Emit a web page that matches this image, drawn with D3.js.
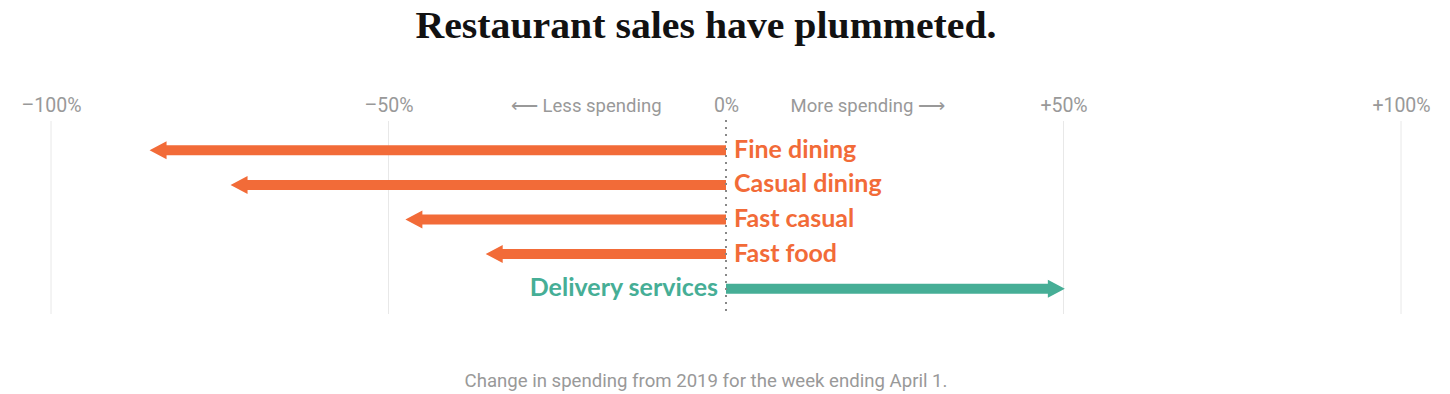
<!DOCTYPE html>
<html>
<head>
<meta charset="utf-8">
<script src="https://cdn.jsdelivr.net/npm/d3@7"></script>
<style>
body { margin: 0; background: #fff; }
</style>
</head>
<body>
<script>
// data
var categories = ["Fine dining", "Casual dining", "Fast casual", "Fast food", "Delivery services"];
var changes = [-85.4, -73.4, -47.5, -35.6, 50.2];
var tickValues = [-100, -50, 0, 50, 100];
var tickLabels = ["\u2013100%", "\u201350%", "0%", "+50%", "+100%"];

var width = 1450, height = 394;
var orange = "#f26b38", teal = "#46ae96";

var svg = d3.select("body").append("svg")
  .attr("width", width)
  .attr("height", height);

var x = d3.scaleLinear().domain([-100, 100]).range([51, 1401]);
var y = d3.scaleBand().domain(categories).range([133, 306]).padding(0);

// title
svg.append("text")
  .attr("x", 706).attr("y", 38)
  .attr("text-anchor", "middle")
  .attr("font-family", "'Liberation Serif', 'DejaVu Serif', serif")
  .attr("font-weight", "bold")
  .attr("font-size", 37)
  .attr("fill", "#121212")
  .attr("textLength", 581)
  .attr("lengthAdjust", "spacingAndGlyphs")
  .text("Restaurant sales have plummeted.");

// grid lines
svg.append("g").selectAll("line")
  .data(tickValues.filter(function(d){ return d != 0; }))
  .enter().append("line")
  .attr("x1", function(d){ return x(d); })
  .attr("x2", function(d){ return x(d); })
  .attr("y1", 121).attr("y2", 314)
  .attr("stroke", "#e8e8e8")
  .attr("stroke-width", 1);

// tick labels via axis
var axis = d3.axisTop(x)
  .tickValues(tickValues)
  .tickSize(0)
  .tickPadding(0)
  .tickFormat(function(d, i){ return tickLabels[i]; });

var ax = svg.append("g")
  .attr("transform", "translate(0,112)")
  .call(axis);
ax.select(".domain").remove();
ax.selectAll("text")
  .attr("dy", 0)
  .attr("font-family", "Roboto, sans-serif")
  .attr("font-size", 19.5)
  .attr("fill", "#999");

// direction notes
svg.append("text")
  .attr("x", x(-20.7)).attr("y", 112)
  .attr("text-anchor", "middle")
  .attr("font-family", "Roboto, sans-serif")
  .attr("font-size", 18.5)
  .attr("fill", "#999")
  .text("\u27f5 Less spending");
svg.append("text")
  .attr("x", x(21)).attr("y", 112)
  .attr("text-anchor", "middle")
  .attr("font-family", "Roboto, sans-serif")
  .attr("font-size", 18.5)
  .attr("fill", "#999")
  .text("More spending \u27f6");

// arrows
function arrowPath(v, cy) {
  var x0 = x(0), xt = x(v);
  var dir = v < 0 ? -1 : 1;
  var head = 17, hb = 5, hh = 9;
  var xb = xt - dir * head;
  return "M" + x0 + "," + (cy - hb) +
    "L" + xb + "," + (cy - hb) +
    "L" + xb + "," + (cy - hh) +
    "L" + xt + "," + cy +
    "L" + xb + "," + (cy + hh) +
    "L" + xb + "," + (cy + hb) +
    "L" + x0 + "," + (cy + hb) + "Z";
}

svg.append("g").selectAll("path")
  .data(categories)
  .enter().append("path")
  .attr("d", function(d, i){ return arrowPath(changes[i], y(d) + y.bandwidth() / 2); })
  .attr("fill", function(d, i){ return changes[i] < 0 ? orange : teal; });

// zero line
svg.append("line")
  .attr("x1", x(0)).attr("x2", x(0))
  .attr("y1", 120).attr("y2", 316)
  .attr("stroke", "#888")
  .attr("stroke-width", 2)
  .attr("stroke-dasharray", "2,5");

// category labels
svg.append("g").selectAll("text")
  .data(categories)
  .enter().append("text")
  .attr("x", function(d, i){ return changes[i] < 0 ? x(0) + 8 : x(0) - 8; })
  .attr("y", function(d){ return y(d) + y.bandwidth() / 2 + 7.5; })
  .attr("text-anchor", function(d, i){ return changes[i] < 0 ? "start" : "end"; })
  .attr("font-family", "'Lato', 'Open Sans', sans-serif")
  .attr("font-weight", "bold")
  .attr("font-size", 25)
  .attr("fill", function(d, i){ return changes[i] < 0 ? orange : teal; })
  .text(function(d){ return d; });

// note
svg.append("text")
  .attr("x", 706).attr("y", 387)
  .attr("text-anchor", "middle")
  .attr("font-family", "Roboto, sans-serif")
  .attr("font-size", 18.6)
  .attr("fill", "#999")
  .text("Change in spending from 2019 for the week ending April 1.");
</script>
</body>
</html>
